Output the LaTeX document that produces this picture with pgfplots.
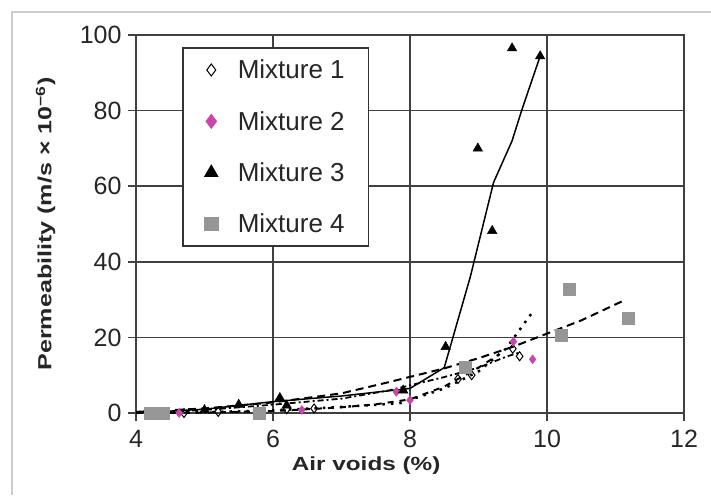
\documentclass[border=0pt]{standalone}
\usepackage{fontspec}
\setmainfont{Liberation Sans}
\usepackage{graphicx}
\usepackage{pgfplots}
\pgfplotsset{compat=1.18}
\definecolor{mixmag}{RGB}{200,70,170}
\definecolor{mixgray}{RGB}{150,150,150}
\begin{document}
\begin{tikzpicture}[x=1pt,y=1pt]
\path[use as bounding box] (0,0) rectangle (711,495);
\draw[gray!40, line width=1.5pt] (12,0) -- (12,483) -- (711,483);
\begin{axis}[
  at={(136pt,82pt)}, anchor=south west,
  scale only axis, width=548pt, height=378pt,
  xmin=4, xmax=12, ymin=0, ymax=100,
  xtick={4,6,...,12}, ytick={0,20,...,100},
  xtick pos=bottom, ytick pos=left,
  tick align=outside, major tick length=8pt,
  grid=major, grid style={black!75, line width=1.5pt},
  axis line style={black!75, line width=1.5pt},
  tick style={black!75, line width=1.5pt},
  /pgf/number format/assume math mode=true,
  tick label style={font=\fontsize{25}{29}\selectfont, text=black!85},
  yticklabel style={xshift=-3pt},
  xticklabel style={yshift=-6pt},
  xlabel={\scalebox{1.28}[1]{\bfseries Air voids (\%)}},
  ylabel={\scalebox{1.32}[1]{\bfseries Permeability (m/s × 10\textsuperscript{−6})}},
  label style={font=\fontsize{19}{22}\selectfont, text=black!85},
  xlabel style={at={(axis description cs:0.42,-0.138)}, anchor=center},
  ylabel style={at={(axis description cs:-0.165,0.5)}, anchor=center, rotate=0},
  legend style={at={(axis description cs:0.084,0.968)}, anchor=north west,
    draw=black!80, line width=1.5pt, fill=white,
    font=\fontsize{26}{30}\selectfont, row sep=27pt,
    inner xsep=22pt, inner ysep=10pt,
    nodes={text=black!85}},
  legend cell align=left,
]
% trend lines
\addplot[black, line width=1.5pt, forget plot] coordinates {
  (4,0) (5,1) (6,3) (7,4.5) (8,6.5) (8.5,12) (8.88,36) (9.22,61) (9.49,72) (9.64,80.6) (9.9,94.4)};
\addplot[black, line width=2pt, dash pattern=on 8pt off 5pt, forget plot] coordinates {
  (4,0.3) (5,1.2) (6,2.8) (7,5.2) (7.7,8.2) (8.5,11.8) (9,14.5) (9.5,17.5) (10,21) (10.5,24.5) (11.15,30)};
\addplot[black, line width=2pt, dash pattern=on 6pt off 6pt, forget plot] coordinates {
  (4,0) (5,0.1) (6,0.5) (7,1.5) (7.5,2.3) (8,3.6) (8.5,7) (9,12) (9.3,15.5)};
\addplot[black, line width=2.5pt, dash pattern=on 2.5pt off 6pt, forget plot] coordinates {
  (4,0) (5,0.2) (6,0.7) (7,1.6) (7.86,2.6) (8.5,6.5) (9,11) (9.4,17) (9.8,27)};
\addplot[black, line width=1.8pt, dash pattern=on 6pt off 3pt on 2pt off 3pt, forget plot] coordinates {
  (4,0) (5,0.8) (6,2.2) (7,3.8) (7.7,6) (8.5,9.5) (9,12) (9.42,15) (9.6,16)};
% data points
\addplot[only marks, mark=diamond, mark size=4.5pt, mark options={black, fill=white, line width=1pt},
  legend image post style={mark size=6pt}] coordinates {
  (4.7,0) (5.2,0.3) (6.2,1) (6.6,1.2) (8.7,9) (8.9,10) (9.6,15) (9.5,17)};
\addlegendentry{\hspace{18pt}Mixture 1}
\addplot[only marks, mark=diamond*, mark size=4.5pt, mark options={mixmag, draw=mixmag},
  legend image post style={mark size=6.5pt}] coordinates {
  (4.63,0) (5.91,-0.5) (6.42,0.8) (7.8,5.6) (8.0,3.4) (9.51,18.9) (9.79,14.2)};
\addlegendentry{\hspace{18pt}Mixture 2}
\addplot[only marks, mark=triangle*, mark size=5.5pt, mark options={black},
  legend image post style={mark size=7pt}] coordinates {
  (4.3,0) (5.0,0.8) (5.5,2.2) (6.1,4) (6.2,2) (7.9,6) (8.52,17.5) (8.99,70) (9.2,48.2) (9.49,96.5) (9.9,94.4)};
\addlegendentry{\hspace{18pt}Mixture 3}
\addplot[only marks, mark=square*, mark size=6pt, mark options={mixgray, draw=mixgray},
  legend image post style={mark size=6.5pt}] coordinates {
  (4.2,0) (4.4,0) (5.8,0) (8.8,12) (10.2,20.6) (10.32,32.7) (11.19,25)};
\addlegendentry{\hspace{18pt}Mixture 4}
\end{axis}
\end{tikzpicture}
\end{document}
